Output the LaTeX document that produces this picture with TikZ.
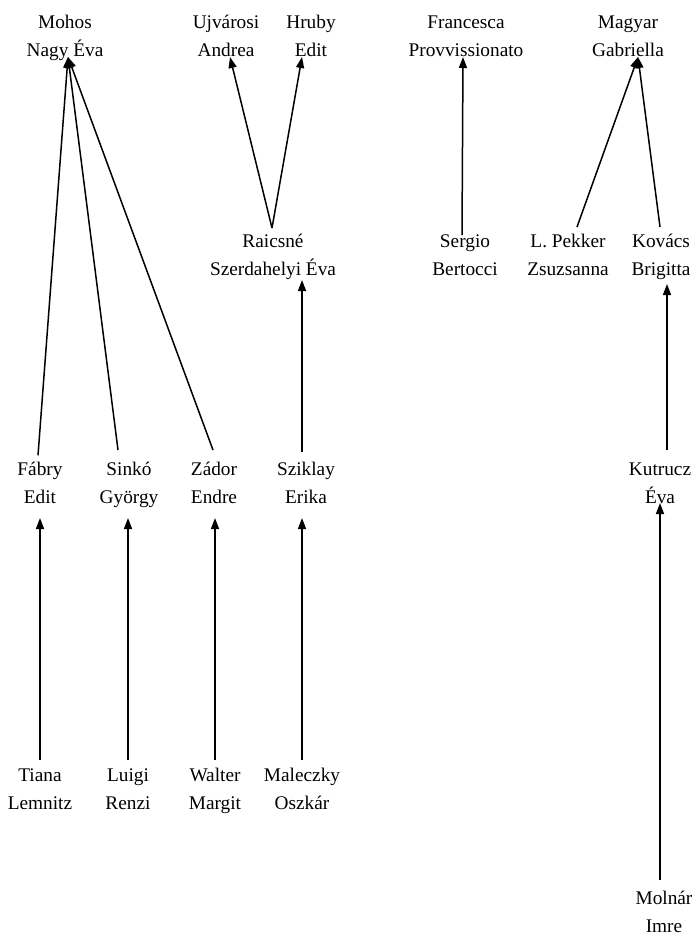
\documentclass[tikz,border=0pt]{standalone}
\usepackage{fontspec}
\setmainfont{Liberation Serif}
\usetikzlibrary{arrows.meta}
\tikzset{
  person/.style={anchor=north, inner sep=0pt, outer sep=0pt, align=center,
    font=\fontsize{19.3}{28}\selectfont},
  arr/.style={line width=1.5pt, -{Triangle[length=11pt,width=8pt]}}
}
\newcommand\pn[2]{\strut #1\\\strut #2}
\begin{document}
\begin{tikzpicture}[x=1pt,y=1pt]
\useasboundingbox (0,0) rectangle (695,-937);
% row 1 (first baseline 28 -> north at 8.4)
\node[person] (mohos)  at (65,-8.4)  {\pn{Mohos}{Nagy Éva}};
\node[person] (ujv)    at (226,-8.4) {\pn{Ujvárosi}{Andrea}};
\node[person] (hruby)  at (311,-8.4) {\pn{Hruby}{Edit}};
\node[person] (franc)  at (466,-8.4) {\pn{Francesca}{Provvissionato}};
\node[person] (magyar) at (628,-8.4) {\pn{Magyar}{Gabriella}};
% row 2 (baseline 247 -> north 227.4)
\node[person] (raics)  at (273,-227.4) {\pn{Raicsné}{Szerdahelyi Éva}};
\node[person] (sergio) at (465,-227.4) {\pn{Sergio}{Bertocci}};
\node[person] (pekker) at (568,-227.4) {\pn{L. Pekker}{Zsuzsanna}};
\node[person] (kovacs) at (661,-227.4) {\pn{Kovács}{Brigitta}};
% row 3 (baseline 475 -> north 455.4)
\node[person] (fabry)   at (40,-455.4)  {\pn{Fábry}{Edit}};
\node[person] (sinko)   at (129,-455.4) {\pn{Sinkó}{György}};
\node[person] (zador)   at (214,-455.4) {\pn{Zádor}{Endre}};
\node[person] (sziklay) at (306,-455.4) {\pn{Sziklay}{Erika}};
\node[person] (kutrucz) at (660,-455.4) {\pn{Kutrucz}{Éva}};
% row 4 (baseline 781 -> north 761.4)
\node[person] (tiana)    at (40,-761.4)  {\pn{Tiana}{Lemnitz}};
\node[person] (luigi)    at (128,-761.4) {\pn{Luigi}{Renzi}};
\node[person] (walter)   at (215,-761.4) {\pn{Walter}{Margit}};
\node[person] (maleczky) at (302,-761.4) {\pn{Maleczky}{Oszkár}};
% row 5 (baseline 904 -> north 884.4)
\node[person] (molnar) at (664,-884.4) {\pn{Molnár}{Imre}};
% edges
\draw[arr] ([shift={(-2,0)}]fabry.north) -- ([shift={(3,7.4)}]mohos.south);
\draw[arr] ([shift={(-11,5.4)}]sinko.north) -- ([shift={(3,7.4)}]mohos.south);
\draw[arr] ([shift={(-1,5.4)}]zador.north) -- ([shift={(3,7.4)}]mohos.south);
\draw[arr] ([shift={(-1,-0.6)}]raics.north) -- ([shift={(4,7.4)}]ujv.south);
\draw[arr] ([shift={(-1,-0.6)}]raics.north) -- ([shift={(-9,7.4)}]hruby.south);
\draw[arr] ([shift={(-3,-7.6)}]sergio.north) -- ([shift={(-3,7.4)}]franc.south);
\draw[arr] ([shift={(9,0.4)}]pekker.north) -- ([shift={(10,7.4)}]magyar.south);
\draw[arr] ([shift={(-1,0.4)}]kovacs.north) -- ([shift={(10,7.4)}]magyar.south);
\draw[arr] ([shift={(-4,3.4)}]sziklay.north) -- ([shift={(29,3.4)}]raics.south);
\draw[arr] ([shift={(7,5.4)}]kutrucz.north) -- ([shift={(6,-0.6)}]kovacs.south);
\draw[arr] ([shift={(0,1.4)}]tiana.north) -- ([shift={(0,-6.6)}]fabry.south);
\draw[arr] ([shift={(0,1.4)}]luigi.north) -- ([shift={(-1,-6.6)}]sinko.south);
\draw[arr] ([shift={(0,1.4)}]walter.north) -- ([shift={(1,-6.6)}]zador.south);
\draw[arr] ([shift={(0,1.4)}]maleczky.north) -- ([shift={(-4,-6.6)}]sziklay.south);
\draw[arr] ([shift={(-4,4.4)}]molnar.north) -- ([shift={(0,8.4)}]kutrucz.south);
\end{tikzpicture}
\end{document}
